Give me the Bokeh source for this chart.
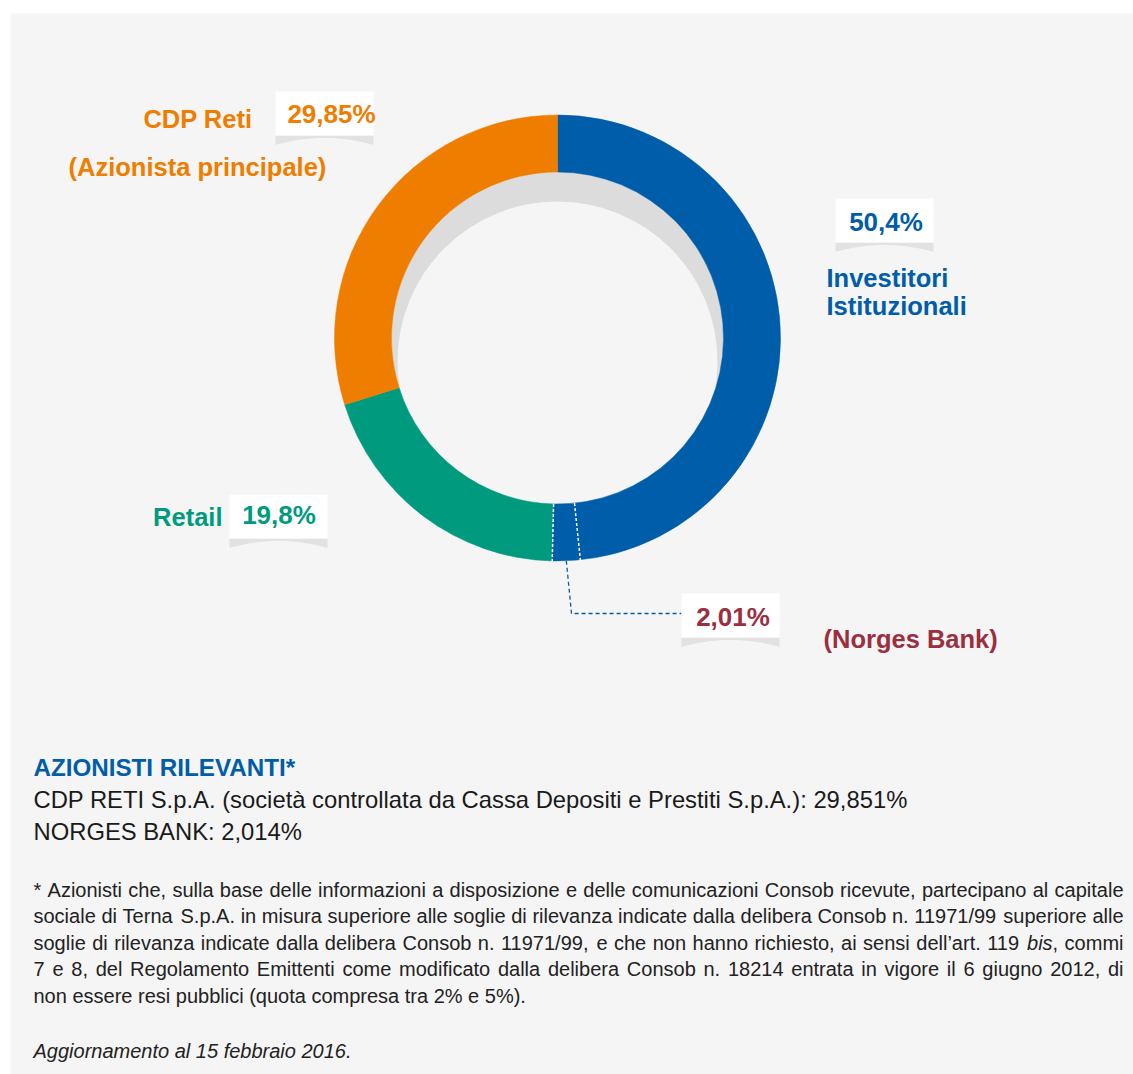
import math
from bokeh.plotting import figure
from bokeh.models import Range1d
from bokeh.core.properties import value
from bokeh.embed import file_html
from bokeh.resources import INLINE

# ---------------- data ----------------
groups = ["Investitori Istituzionali", "Retail", "CDP Reti"]
group_pct = [50.4, 19.8, 29.85]
group_colors = ["#005da9", "#009a7e", "#ee7d00"]
pct_labels = ["50,4%", "19,8%", "29,85%"]
norges_pct = 2.01          # part of the institutional investors' slice
norges_label = "2,01%"
norges_name = "(Norges Bank)"
norges_color = "#9b2f3f"

heading = "AZIONISTI RILEVANTI*"
holders = ["CDP RETI S.p.A. (società controllata da Cassa Depositi e Prestiti S.p.A.): 29,851%",
           "NORGES BANK: 2,014%"]
foot_lines = [
    "* Azionisti che, sulla base delle informazioni a disposizione e delle comunicazioni Consob ricevute, partecipano al capitale",
    "sociale di Terna S.p.A. in misura superiore alle soglie di rilevanza indicate dalla delibera Consob n. 11971/99 superiore alle",
    "soglie di rilevanza indicate dalla delibera Consob n. 11971/99, e che non hanno richiesto, ai sensi dell\u2019art. 119 _bis_, commi",
    "7 e 8, del Regolamento Emittenti come modificato dalla delibera Consob n. 18214 entrata in vigore il 6 giugno 2012, di",
    "non essere resi pubblici (quota compresa tra 2% e 5%).",
]
update_note = "Aggiornamento al 15 febbraio 2016."

# ---------------- layout helpers ----------------
W, H = 1133, 1074
FONT = value("Liberation Sans")
BG = "#f5f5f5"


def X(px):
    return px


def Y(py):
    return H - py


p = figure(width=W, height=H, x_range=Range1d(0, W), y_range=Range1d(0, H),
           output_backend="svg", toolbar_location=None, min_border=0,
           x_axis_location=None, y_axis_location=None)
p.grid.visible = False
p.outline_line_color = None
p.background_fill_color = "white"
p.border_fill_color = "white"

# grey panel
p.quad(left=[X(10)], right=[W], top=[Y(13)], bottom=[0], fill_color=BG, line_color=None)

# ---------------- donut ----------------
cx, cy = X(557), Y(337.5)
R_OUT, R_IN = 223, 166

# inner shadow
p.circle(x=[cx], y=[cy], radius=R_IN, fill_color="#dcdcdc", line_color=None)
p.circle(x=[cx], y=[cy - 23.5], radius=R_IN - 6, fill_color=BG, line_color=None)

total = sum(group_pct)
starts, ends = [], []
cum = 0.0
for v in group_pct:
    a, b = cum / total, (cum + v) / total
    starts.append(math.pi / 2 - 2 * math.pi * b)
    ends.append(math.pi / 2 - 2 * math.pi * a)
    cum += v
p.annular_wedge(x=[cx] * 3, y=[cy] * 3, inner_radius=R_IN, outer_radius=R_OUT,
                start_angle=starts, end_angle=ends, fill_color=group_colors,
                line_color=group_colors, line_width=0.5)

# Norges Bank sub-slice boundaries (end of institutional slice)
fa = (group_pct[0] - norges_pct) / total
fb = group_pct[0] / total
bx0, by0, bx1, by1 = [], [], [], []
for f in (fa, fb):
    th = 2 * math.pi * f
    bx0.append(cx + R_IN * math.sin(th)); by0.append(cy + R_IN * math.cos(th))
    bx1.append(cx + (R_OUT + 1) * math.sin(th)); by1.append(cy + (R_OUT + 1) * math.cos(th))
p.segment(x0=bx0, y0=by0, x1=bx1, y1=by1, line_color="white", line_width=1.5, line_dash="3 2")

# leader line to the Norges label
thm = 2 * math.pi * (fa + fb) / 2
sx, sy = cx + R_OUT * math.sin(thm), cy + R_OUT * math.cos(thm)
p.line(x=[sx, X(571), X(681)], y=[sy, Y(613), Y(613)], line_color="#005da9",
       line_width=1.3, line_dash="4 3")

# ---------------- label boxes ----------------
boxes = [(275, 91, 373, 135), (835, 198, 933, 242), (229, 494, 327, 538), (681, 593, 779, 637)]
for (x0, y0, x1, y1) in boxes:
    n = 30
    bxs = [X(x0), X(x1)]
    bys = [Y(y1), Y(y1)]
    for i in range(n + 1):
        t = 1 - i / n
        xx = x0 + (x1 - x0) * t
        d = 2.5 + 7 * (2 * t - 1) ** 2
        bxs.append(X(xx)); bys.append(Y(y1 + d))
    p.patch(x=bxs, y=bys, fill_color="#e2e2e2", line_color=None)
    p.quad(left=[X(x0)], right=[X(x1)], top=[Y(y0)], bottom=[Y(y1)], fill_color="white", line_color=None)


def txt(x, y, s, color, size, style="normal", align="left"):
    p.text(x=[X(x)], y=[Y(y)], text=[s], text_font=FONT, text_font_size=size,
           text_font_style=style, text_color=color, text_align=align, text_baseline="middle")


# percentages
txt(885.5, 221, pct_labels[0], group_colors[0], "26px", "bold", "center")
txt(278.5, 514, pct_labels[1], group_colors[1], "26px", "bold", "center")
txt(331, 113.5, pct_labels[2], group_colors[2], "26px", "bold", "center")
txt(732.5, 616, norges_label, norges_color, "26px", "bold", "center")

# names
txt(826, 277, "Investitori", group_colors[0], "25.5px", "bold", "left")
txt(826, 305, "Istituzionali", group_colors[0], "25.5px", "bold", "left")
txt(222, 516, groups[1], group_colors[1], "25.5px", "bold", "right")
txt(252, 118, groups[2], group_colors[2], "25.5px", "bold", "right")
txt(68, 166, "(Azionista principale)", group_colors[2], "25.5px", "bold", "left")
txt(823, 638, norges_name, norges_color, "25.5px", "bold", "left")

# ---------------- text block ----------------
txt(33, 767, heading, group_colors[0], "24.2px", "bold", "left")
txt(33, 799, holders[0], "#1a1a1a", "23.8px", "normal", "left")
txt(33, 831, holders[1], "#1a1a1a", "23.8px", "normal", "left")

# Arial / Liberation Sans advance widths (1/1000 em)
AW = {' ': 278, '*': 389, ',': 278, '.': 278, '/': 278, '(': 333, ')': 333, '%': 889,
      '\u2019': 222, ':': 278, 'à': 556,
      'A': 667, 'B': 667, 'C': 722, 'D': 722, 'E': 667, 'F': 611, 'G': 778, 'H': 722,
      'I': 278, 'J': 500, 'K': 667, 'L': 556, 'M': 833, 'N': 722, 'O': 778, 'P': 667,
      'Q': 778, 'R': 722, 'S': 667, 'T': 611, 'U': 722, 'V': 667, 'W': 944, 'X': 667,
      'Y': 667, 'Z': 611,
      'a': 556, 'b': 556, 'c': 500, 'd': 556, 'e': 556, 'f': 278, 'g': 556, 'h': 556,
      'i': 222, 'j': 222, 'k': 500, 'l': 222, 'm': 833, 'n': 556, 'o': 556, 'p': 556,
      'q': 556, 'r': 333, 's': 500, 't': 278, 'u': 556, 'v': 500, 'w': 722, 'x': 500,
      'y': 500, 'z': 500}
FS = 20.0


def wid(s):
    return sum(AW.get(c, 556) for c in s) / 1000.0 * FS


LEFT, RIGHT = 33, 1123
LINE_Y0, LINE_DY = 889, 26.5
norm = {"x": [], "y": [], "t": []}
ital = {"x": [], "y": [], "t": []}
for li, line in enumerate(foot_lines):
    yy = LINE_Y0 + li * LINE_DY
    words = line.split(" ")
    runs_per_word = []
    for w in words:
        parts = w.split("_")
        runs = [(s, k % 2 == 1) for k, s in enumerate(parts) if s]
        runs_per_word.append(runs)
    wws = [sum(wid(s) for s, _ in r) for r in runs_per_word]
    justify = li < len(foot_lines) - 1
    gap = (RIGHT - LEFT - sum(wws)) / (len(words) - 1) if justify else wid(" ")
    xx = LEFT
    for r, ww in zip(runs_per_word, wws):
        xr = xx
        for s, is_it in r:
            d = ital if is_it else norm
            d["x"].append(X(xr)); d["y"].append(Y(yy)); d["t"].append(s)
            xr += wid(s)
        xx += ww + gap

p.text(x=norm["x"], y=norm["y"], text=norm["t"], text_font=FONT, text_font_size="20px",
       text_color="#222222", text_align="left", text_baseline="middle")
p.text(x=ital["x"], y=ital["y"], text=ital["t"], text_font=FONT, text_font_size="20px",
       text_font_style="italic", text_color="#222222", text_align="left", text_baseline="middle")

txt(33, 1050, update_note, "#222222", "20px", "italic", "left")

open("out.html", "w").write(file_html(p, INLINE))
